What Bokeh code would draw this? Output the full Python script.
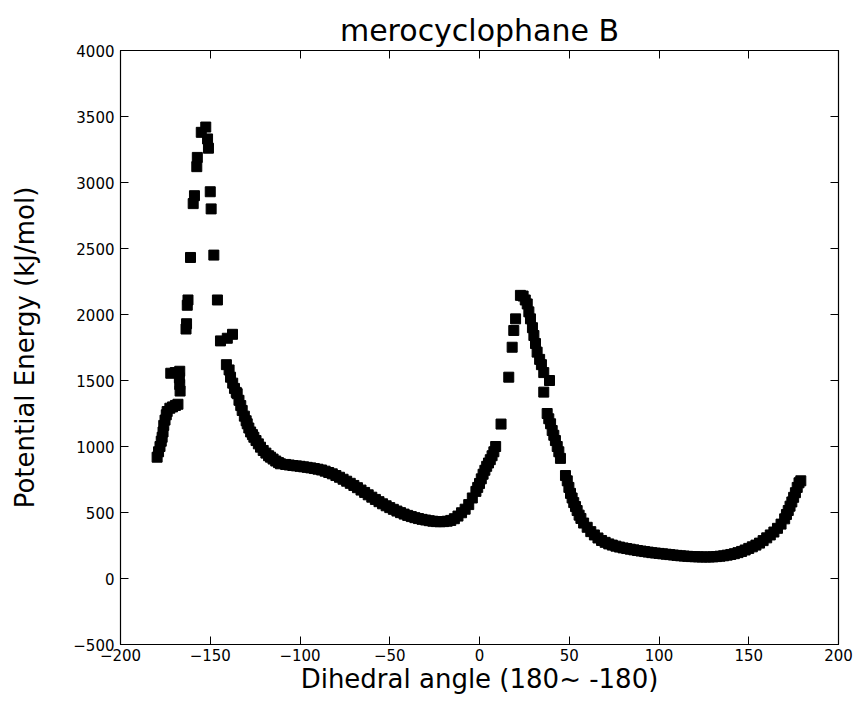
from bokeh.plotting import figure
from bokeh.models import Range1d, FixedTicker, LinearAxis
from bokeh.embed import file_html
from bokeh.resources import INLINE

# ---- data ----
angle_peak1 = [-179.6, -178.8, -178.0, -177.3, -176.8, -176.3, -175.9, -175.2, -174.5, -174.0,
               -172.5, -171.0, -169.4, -168.0, -166.8, -167.0, -167.2, -172.0, -169.5, -167.0,
               -163.5, -163.2, -162.8, -162.4, -161.0, -159.5, -158.8, -157.5, -157.2, -155.0,
               -152.5, -151.5, -151.0, -150.0, -149.5, -148.0, -146.0, -144.3, -140.5, -137.6,
               -141.0, -139.5, -138.7, -137.5, -136.5, -135.5, -135.0, -134.0, -133.0, -132.2,
               -131.0, -130.0, -129.4, -128.5, -127.5, -126.5, -125.7, -124.5, -123.2, -122.0,
               -120.5, -119.0, -117.5, -116.4, -115.0, -113.5, -112.0, -110.9]
energy_peak1 = [919, 960, 1000, 1040, 1070, 1110, 1160, 1200, 1240, 1265,
                1290, 1300, 1311, 1320, 1420, 1470, 1520, 1555, 1560, 1570,
                1890, 1930, 2070, 2110, 2432, 2840, 2900, 3120, 3190, 3380,
                3420, 3330, 3260, 2930, 2800, 2450, 2110, 1800, 1820, 1850,
                1620, 1580, 1525, 1480, 1440, 1410, 1400, 1350, 1310, 1273,
                1230, 1195, 1172, 1140, 1110, 1090, 1070, 1045, 1020, 995,
                970, 950, 930, 919, 905, 890, 878, 869]

angle_plateau = [-108, -106, -104, -102, -100, -98, -96, -94, -92, -90, -88, -86, -84, -82,
                 -80, -78, -76, -74, -72, -70, -68, -66, -64, -62, -60, -58, -56, -54, -52,
                 -50, -48, -46, -44, -42, -40, -38, -36, -34, -32, -30, -28, -26, -24, -22,
                 -20, -18, -16, -14, -12, -10, -8, -6, -4, -2, -1, 0, 1, 2, 3, 4, 5, 6, 7, 8, 9, 12]
energy_plateau = [864, 860, 856, 853, 850, 846, 842, 838, 833, 828, 822, 813, 803, 793,
                  780, 767, 752, 737, 721, 705, 688, 670, 652, 634, 616, 599, 582, 566, 551,
                  537, 524, 511, 499, 488, 478, 469, 461, 454, 448, 443, 438, 434, 431, 430,
                  431, 434, 440, 453, 473, 498, 525, 560, 610, 660, 690, 720, 755, 790, 820,
                  850, 875, 900, 930, 960, 1000, 1170]

angle_peak2 = [16.3, 18.2, 19.1, 20.1, 22.8, 24.3, 25.5, 26.6, 27.5, 28.4, 29.5, 30.3, 31.2,
               32.1, 33.5, 34.5, 35.8, 39.0, 35.8, 37.7, 38.6, 39.6, 40.5, 41.4, 42.3, 43.3,
               44.2, 45.1, 47.9, 48.9, 49.8, 50.7, 51.6, 52.5, 53.5, 54.4, 55.5, 56.5, 58, 60,
               62, 64, 66, 68, 70, 72, 74, 76, 78, 80, 82]
energy_peak2 = [1525, 1752, 1879, 1967, 2145, 2140, 2110, 2080, 2020, 1967, 1900, 1841, 1780,
                1715, 1660, 1620, 1560, 1500, 1412, 1250, 1210, 1172, 1121, 1085, 1045, 1000,
                960, 910, 780, 740, 690, 645, 610, 575, 545, 515, 480, 455, 420, 388,
                355, 330, 307, 288, 274, 262, 253, 245, 238, 232, 227]

angle_tail = [84, 86, 88, 90, 92, 94, 96, 98, 100, 102, 104, 106, 108, 110, 112, 114, 116, 118,
              120, 122, 124, 126, 128, 130, 132, 134, 136, 138, 140, 142, 144, 146, 148, 150,
              152, 154, 156, 158, 160, 162, 164, 166, 168, 170, 171, 172, 173, 174, 175, 176,
              177, 178, 179]
energy_tail = [222, 217, 212, 208, 204, 200, 196, 193, 190, 187, 184, 181, 178, 175, 172, 170,
               168, 166, 165, 164, 163, 163, 163, 164, 166, 169, 172, 177, 182, 188, 196, 205,
               216, 228, 240, 253, 268, 287, 308, 330, 352, 380, 412, 452, 485, 515, 548, 580,
               615, 650, 690, 725, 740]

x_ticks = [-200, -150, -100, -50, 0, 50, 100, 150, 200]
y_ticks = [-500, 0, 500, 1000, 1500, 2000, 2500, 3000, 3500, 4000]

angles = angle_peak1 + angle_plateau + angle_peak2 + angle_tail
energies = energy_peak1 + energy_plateau + energy_peak2 + energy_tail

FONT = "DejaVu Sans"

def fmt(v):
    return ("\u2212" + str(-v)) if v < 0 else str(v)

p = figure(width=857, height=707, x_range=Range1d(-200, 200), y_range=Range1d(-500, 4000),
           output_backend="svg", toolbar_location=None,
           min_border_left=120, min_border_right=19, min_border_top=50, min_border_bottom=63)
p.background_fill_color = "white"
p.border_fill_color = "white"
p.outline_line_color = "black"
p.outline_line_width = 1.2
p.xgrid.visible = False
p.ygrid.visible = False

p.title.text = "merocyclophane B"
p.title.align = "center"
p.title.text_font = FONT
p.title.text_font_size = "30px"
p.title.text_font_style = "normal"
p.title.text_color = "black"
p.title.standoff = 6

p.scatter(angles, energies, marker="square", size=10, color="black")

for ax, ticks in ((p.xaxis[0], x_ticks), (p.yaxis[0], y_ticks)):
    ax.ticker = FixedTicker(ticks=ticks)
    ax.major_label_overrides = {t: fmt(t) for t in ticks}
    ax.major_tick_in = 8
    ax.major_tick_out = 0
    ax.minor_tick_line_color = None
    ax.axis_line_color = "black"
    ax.major_tick_line_color = "black"
    ax.major_label_text_font = FONT
    ax.major_label_text_font_size = "15px"
    ax.major_label_text_color = "black"
    ax.axis_label_text_font = FONT
    ax.axis_label_text_font_size = "26px"
    ax.axis_label_text_font_style = "normal"
    ax.axis_label_text_color = "black"

p.xaxis.axis_label = "Dihedral angle (180~ -180)"
p.yaxis.axis_label = "Potential Energy (kJ/mol)"
p.xaxis.major_label_standoff = 4
p.yaxis.major_label_standoff = 6
p.xaxis.axis_label_standoff = 0
p.yaxis.axis_label_standoff = 30

# ticks on top and right (labels left empty)
top = LinearAxis(ticker=FixedTicker(ticks=x_ticks), major_tick_in=8, major_tick_out=0,
                 minor_tick_line_color=None, major_label_standoff=0,
                 major_label_overrides={t: "" for t in x_ticks})
right = LinearAxis(ticker=FixedTicker(ticks=y_ticks), major_tick_in=8, major_tick_out=0,
                   minor_tick_line_color=None, major_label_standoff=0,
                   major_label_overrides={t: "" for t in y_ticks})
p.add_layout(top, "above")
p.add_layout(right, "right")

open("out.html", "w").write(file_html(p, INLINE))
